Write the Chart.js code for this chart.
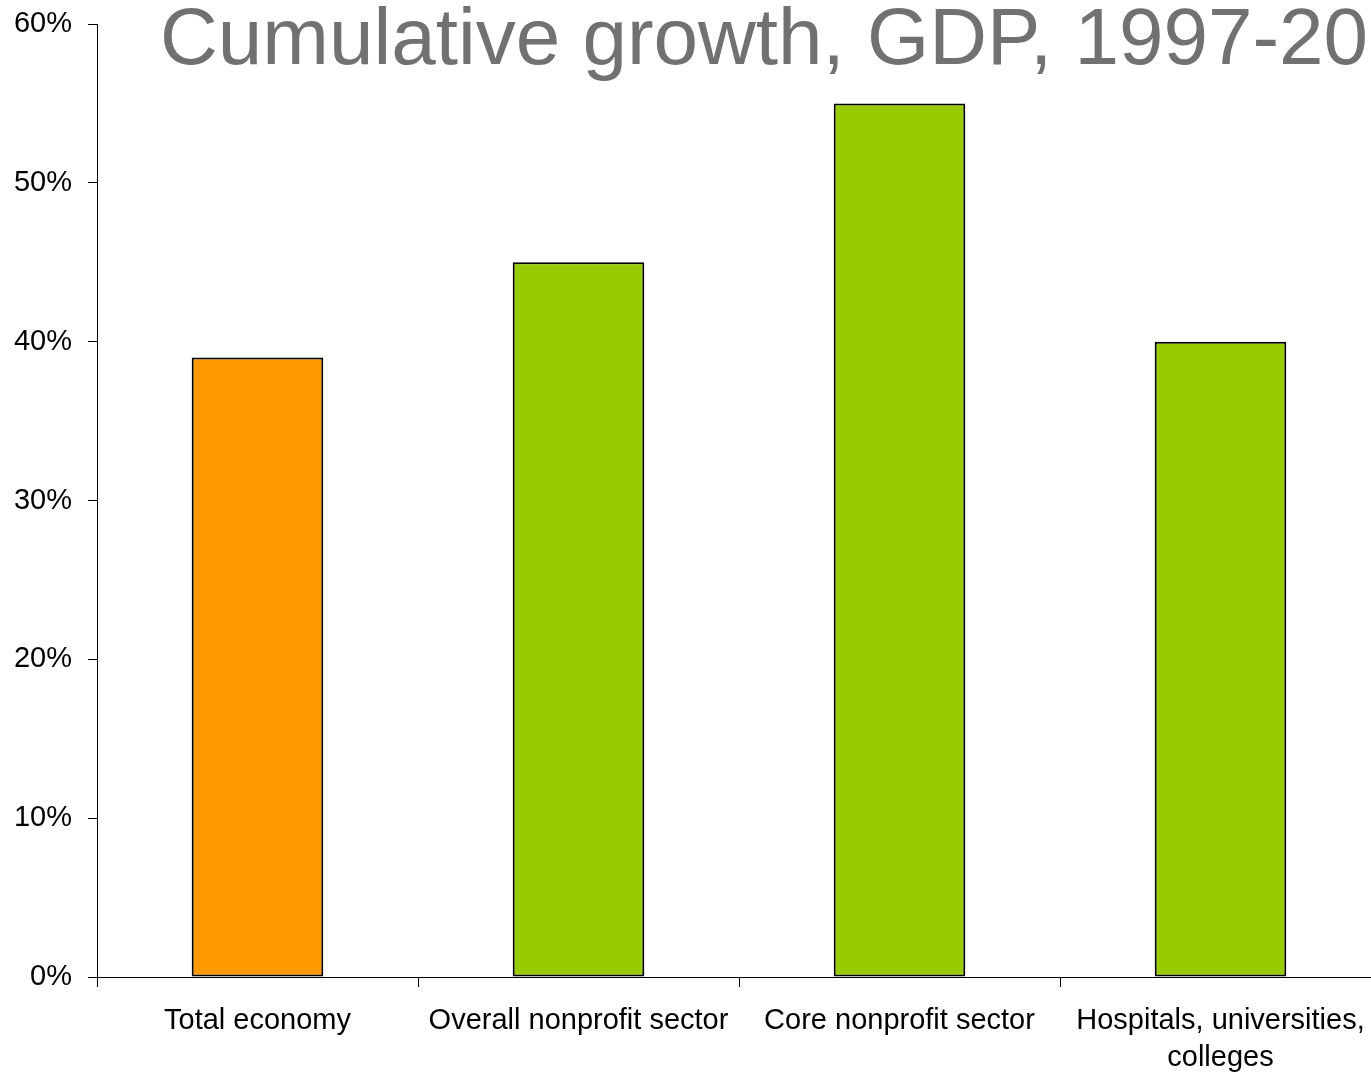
<!DOCTYPE html>
<html>
<head>
<meta charset="utf-8">
<script src="https://cdn.jsdelivr.net/npm/chart.js@4.4.1/dist/chart.umd.min.js"></script>
<style>
  html, body { margin: 0; padding: 0; background: #fff; overflow: hidden; }
  #wrap { width: 1382px; height: 1074px; }
</style>
</head>
<body>
<div id="wrap"><canvas id="c" width="1382" height="1074"></canvas></div>
<script>
const titleText = "Cumulative growth, GDP, 1997-20";
const categories = [
  "Total economy",
  "Overall nonprofit sector",
  "Core nonprofit sector",
  ["Hospitals, universities,", "colleges"]
];
const growthValues = [39, 45, 55, 40];
const barColors = ["#FF9900", "#99CC00", "#99CC00", "#99CC00"];
const yMin = 0, yMax = 60, yStep = 10;

Chart.defaults.font.family = "'Liberation Sans', Arial, sans-serif";
Chart.defaults.color = "#000";

const titlePlugin = {
  id: "leftTitle",
  afterDraw(chart) {
    const ctx = chart.ctx;
    ctx.save();
    ctx.font = "80px 'Liberation Sans', Arial, sans-serif";
    ctx.fillStyle = "#717171";
    ctx.textAlign = "left";
    ctx.textBaseline = "alphabetic";
    ctx.fillText(titleText, 160, 64);
    ctx.restore();
  }
};

new Chart(document.getElementById("c"), {
  type: "bar",
  data: {
    labels: categories,
    datasets: [{
      data: growthValues,
      backgroundColor: barColors,
      borderColor: "#000",
      borderWidth: 2,
      borderSkipped: false,
      barPercentage: 0.41,
      categoryPercentage: 1.0
    }]
  },
  options: {
    responsive: false,
    animation: false,
    devicePixelRatio: 1,
    layout: { padding: { top: 24, right: 1, left: 0, bottom: 0 } },
    plugins: {
      legend: { display: false },
      title: { display: false },
      tooltip: { enabled: false }
    },
    scales: {
      x: {
        offset: true,
        grid: {
          offset: true,
          drawOnChartArea: false,
          drawTicks: true,
          tickLength: 10,
          color: "#000"
        },
        border: { display: true, color: "#000", width: 1 },
        ticks: {
          font: { size: 29, lineHeight: 1.27 },
          color: "#000",
          padding: 16,
          maxRotation: 0,
          autoSkip: false
        },
        afterFit(scale) { scale.height = 97; scale.paddingLeft = 0; scale.paddingRight = 0; }
      },
      y: {
        min: yMin,
        max: yMax,
        grid: {
          drawOnChartArea: false,
          drawTicks: true,
          tickLength: 9,
          color: "#000"
        },
        border: { display: true, color: "#000", width: 1 },
        ticks: {
          stepSize: yStep,
          font: { size: 29 },
          color: "#000",
          padding: 16,
          callback: v => v + "%"
        },
        afterFit(scale) { scale.width = 97; scale.paddingTop = 0; scale.paddingBottom = 0; }
      }
    }
  },
  plugins: [titlePlugin]
});
</script>
</body>
</html>
